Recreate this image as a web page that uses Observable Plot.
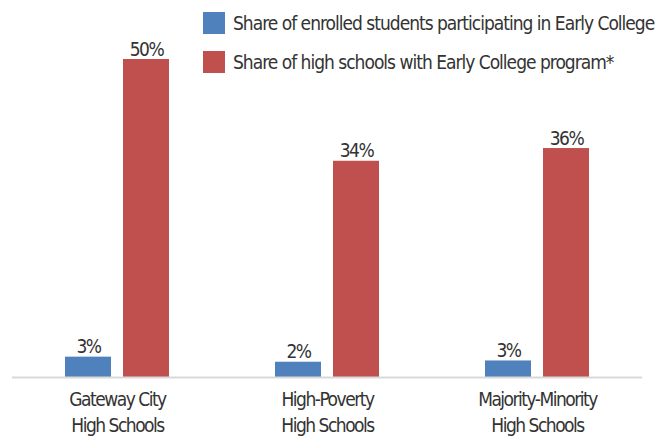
<!DOCTYPE html>
<html>
<head>
<meta charset="utf-8">
<script src="https://cdn.jsdelivr.net/npm/d3@7"></script>
<script src="https://cdn.jsdelivr.net/npm/@observablehq/plot@0.6"></script>
<style>
  html, body { margin: 0; padding: 0; background: #fff; }
  #wrap { position: relative; width: 664px; height: 436px; font-family: "Liberation Sans Narrow", "DejaVu Sans Condensed", "Roboto", sans-serif; font-stretch: condensed; }
  #legend { position: absolute; left: 203px; top: 12px; color: #333; font-size: 19px; letter-spacing: -1px; }
  .item { display: flex; align-items: center; height: 22px; margin-bottom: 17px; white-space: nowrap; }
  .sw { width: 22px; height: 22px; margin-right: 8px; flex: none; }
  svg text { letter-spacing: -1.5px; }
</style>
</head>
<body>
<div id="wrap"><div id="legend"></div></div>
<script>
const categories = ["Gateway City\nHigh Schools", "High-Poverty\nHigh Schools", "Majority-Minority\nHigh Schools"];
const series = ["Share of enrolled students participating in Early College", "Share of high schools with Early College program*"];
const studentShare = [3.2, 2.4, 2.6];
const schoolShare = [50, 34, 36];
const colors = ["#4F81BD", "#C0504D"];

const data = [];
categories.forEach((c, i) => {
  data.push({category: c, series: series[0], value: studentShare[i]});
  data.push({category: c, series: series[1], value: schoolShare[i]});
});

const font = '"Liberation Sans Narrow", "DejaVu Sans Condensed", "Roboto", sans-serif';

const chart = Plot.plot({
  width: 664,
  height: 436,
  marginLeft: 12,
  marginRight: 22,
  marginTop: 59,
  marginBottom: 59,
  style: {fontFamily: font, fontStretch: "condensed", color: "#333", background: "#fff"},
  fx: {domain: categories, padding: 0, label: null},
  x: {domain: series, paddingInner: 0.2, paddingOuter: 0.88, axis: null},
  y: {domain: [0, 50], axis: null},
  color: {domain: series, range: colors},
  marks: [
    Plot.barY(data, {fx: "category", x: "series", y: "value", fill: "series"}),
    Plot.ruleY([0], {stroke: "#d9d9d9", strokeWidth: 2}),
    Plot.text(data, {fx: "category", x: "series", y: "value", text: d => d3.format(".0f")(d.value) + "%", lineAnchor: "bottom", dy: -4, fontSize: 19, fill: "#333"}),
    Plot.axisFx({anchor: "bottom", tickSize: 0, tickPadding: 10, fontSize: 19, lineHeight: 1.38, fill: "#333", label: null})
  ]
});

const wrap = document.getElementById("wrap");
wrap.insertBefore(chart, wrap.firstChild);

const legend = document.getElementById("legend");
series.forEach((s, i) => {
  const item = document.createElement("div");
  item.className = "item";
  const sw = document.createElement("span");
  sw.className = "sw";
  sw.style.background = colors[i];
  const t = document.createElement("span");
  t.textContent = s;
  item.appendChild(sw);
  item.appendChild(t);
  legend.appendChild(item);
});
</script>
</body>
</html>
